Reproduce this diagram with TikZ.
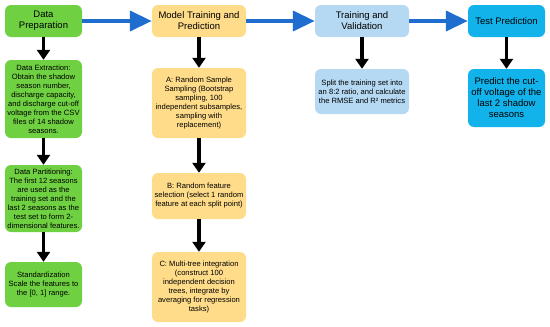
\documentclass[tikz,border=0pt]{standalone}
\usepackage{fontspec}
\setmainfont{Liberation Sans}
\usepackage{tikz}
\usepackage{xcolor}
\usetikzlibrary{arrows.meta,positioning}
\definecolor{prepgreen} {HTML}{6FD142}
\definecolor{modelgold} {HTML}{FFDC8A}
\definecolor{validblue} {HTML}{B5D9F2}
\definecolor{testblue}  {HTML}{12B3EB}
\definecolor{flowblue}  {HTML}{1F6DCE}
\tikzset{
  headbox/.style  ={rounded corners=6pt, minimum height=32pt, inner sep=2pt,
                    align=center, font=\fontsize{9.5}{11}\selectfont},
  stepbox/.style  ={rounded corners=6pt, inner sep=2pt,
                    align=center, font=\fontsize{7.6}{9}\selectfont},
  narrow/.style   ={minimum width=77pt},
  wide/.style     ={minimum width=94pt},
  downarr/.style  ={-{Triangle[length=10pt,width=13pt]}, line width=3.8pt, color=black},
  sidearr/.style  ={-{Triangle[length=22pt,width=20pt]}, line width=4pt, color=flowblue},
}
\begin{document}
\begin{tikzpicture}[x=1pt,y=-1pt]
    \useasboundingbox (0,0) rectangle (550,327);

    % column headers
    \node[headbox,narrow,fill=prepgreen] (prep)  at ( 43.5,21) {Data\\Preparation};
    \node[headbox,wide,fill=modelgold]   (model) at (199.0,21) {Model Training and\\Prediction};
    \node[headbox,wide,fill=validblue]   (valid) at (362.0,21) {Training and\\Validation};
    \node[headbox,narrow,fill=testblue]  (test)  at (506.5,21) {Test Prediction};

    \draw[sidearr] (prep.east)  -- (model.west);
    \draw[sidearr] (model.east) -- (valid.west);
    \draw[sidearr] (valid.east) -- (test.west);

    % data preparation steps
    \node[stepbox,narrow,fill=prepgreen,minimum height=78pt] (extract) at (43.5,99)
      {Data Extraction:\\Obtain the shadow\\season number,\\discharge capacity,\\and discharge cut-off\\voltage from the CSV\\files of 14 shadow\\seasons.};
    \node[stepbox,narrow,fill=prepgreen,minimum height=67pt] (split) at (43.5,198.5)
      {Data Partitioning:\\The first 12 seasons\\are used as the\\training set and the\\last 2 seasons as the\\test set to form 2-\\dimensional features.};
    \node[stepbox,narrow,fill=prepgreen,minimum height=45pt] (scale) at (43.5,284.5)
      {Standardization\\Scale the features to\\the [0, 1] range.};

    \draw[downarr] (prep.south)    -- (extract.north);
    \draw[downarr] (extract.south) -- (split.north);
    \draw[downarr] (split.south)   -- (scale.north);

    % random forest steps
    \node[stepbox,wide,fill=modelgold,minimum height=70pt] (bagging) at (199,103)
      {A: Random Sample\\Sampling (Bootstrap\\sampling, 100\\independent subsamples,\\sampling with\\replacement)};
    \node[stepbox,wide,fill=modelgold,minimum height=46pt] (feature) at (199,196)
      {B: Random feature\\selection (select 1 random\\feature at each split point)};
    \node[stepbox,wide,fill=modelgold,minimum height=70pt] (ensemble) at (199,287)
      {C: Multi-tree integration\\(construct 100\\independent decision\\trees, integrate by\\averaging for regression\\tasks)};

    \draw[downarr] (model.south)   -- (bagging.north);
    \draw[downarr] (bagging.south) -- (feature.north);
    \draw[downarr] (feature.south) -- (ensemble.north);

    % validation and test
    \node[stepbox,wide,fill=validblue,minimum height=45pt] (metrics) at (362,91.5)
      {Split the training set into\\an 8:2 ratio, and calculate\\the RMSE and R² metrics};
    \node[headbox,narrow,fill=testblue,minimum height=58pt] (predict) at (506.5,98)
      {Predict the cut-\\off voltage of the\\last 2 shadow\\seasons};

    \draw[downarr] (valid.south) -- (metrics.north);
    \draw[downarr] (test.south)  -- (predict.north);
  \end{tikzpicture}
\end{document}
